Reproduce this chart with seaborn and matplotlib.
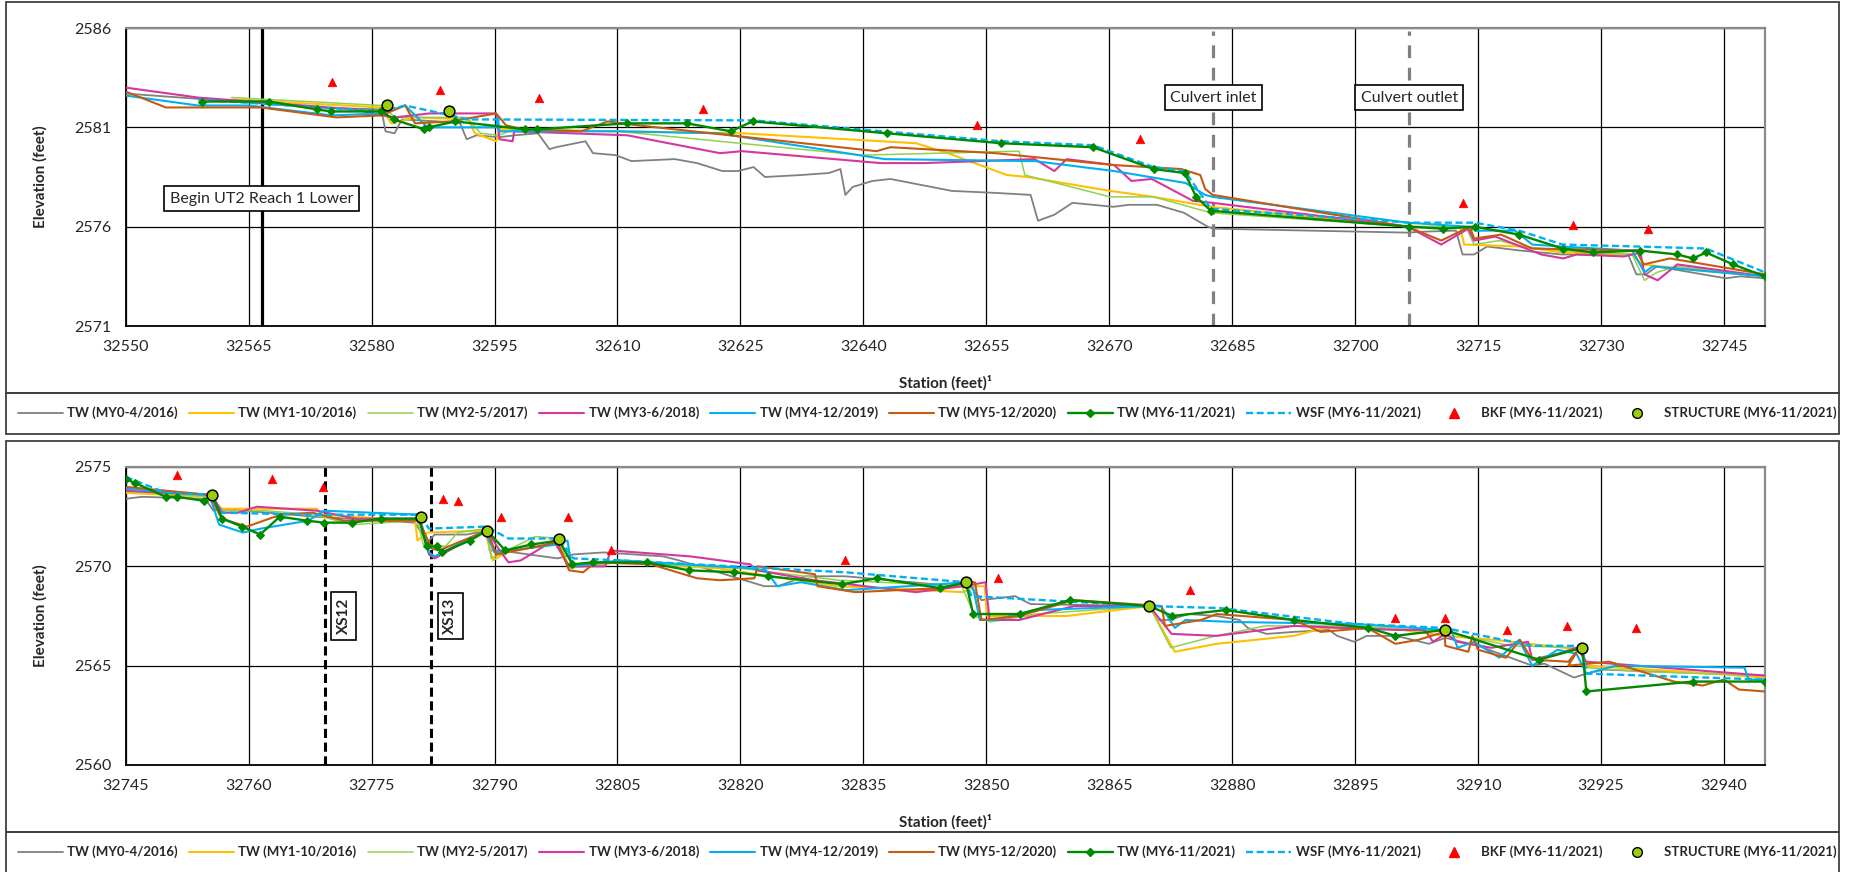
import matplotlib
matplotlib.use("Agg")
import matplotlib.pyplot as plt
from matplotlib.lines import Line2D
from matplotlib.patches import Rectangle
import seaborn as sns
import pandas as pd

# ---------------- data: upper reach (stations 32550-32750) ----------------
top_bkf_x = [32575.2, 32588.4, 32600.4, 32620.4, 32653.9, 32673.8, 32713.1, 32726.6, 32735.7]
top_bkf_y = [2583.3, 2582.9, 2582.5, 2581.9, 2581.1, 2580.4, 2577.2, 2576.1, 2575.9]
top_str_x = [32581.9, 32589.5]
top_str_y = [2582.1, 2581.8]

top_my0_x = [32550, 32560, 32573, 32581.2, 32581.7, 32582.8, 32583.7, 32588, 32590.8, 32591.6, 32592.8, 32595.5,
             32597.5, 32600.3, 32601.7, 32602.5, 32606.1, 32607.0, 32609.8, 32611.7, 32617.0, 32619.7, 32622.8,
             32624.7, 32626.6, 32628.0, 32632.4, 32635.8, 32637.2, 32637.8, 32638.7, 32641.1, 32643.3, 32650.8,
             32656.1, 32660.4, 32661.3, 32663.3, 32665.5, 32670.5, 32672.4, 32675.8, 32679.1, 32682.0, 32682.7,
             32706.4, 32708.5, 32712.3, 32713.1, 32714.5, 32716.1, 32720.1, 32725.2, 32733.3, 32734.3, 32735.5,
             32736.8, 32745.2, 32747, 32750]
top_my0_y = [2582.7, 2582.4, 2582.0, 2581.9, 2580.8, 2580.7, 2581.4, 2581.3, 2581.2, 2580.4, 2580.6, 2580.5,
             2580.6, 2580.7, 2579.9, 2580.0, 2580.3, 2579.7, 2579.6, 2579.3, 2579.4, 2579.2, 2578.8,
             2578.8, 2579.0, 2578.5, 2578.6, 2578.7, 2578.9, 2577.6, 2578.0, 2578.3, 2578.4, 2577.8,
             2577.7, 2577.6, 2576.3, 2576.6, 2577.2, 2577.0, 2577.1, 2577.1, 2576.7, 2576.0, 2575.9,
             2575.7, 2575.75, 2575.8, 2574.6, 2574.6, 2575.0, 2574.8, 2574.6, 2574.6, 2573.6, 2573.6,
             2574.0, 2573.4, 2573.5, 2573.4]

top_my1_x = [32563.1, 32581.2, 32582.4, 32585.3, 32591.8, 32592.6, 32595.2, 32595.7, 32610, 32625.2, 32646.4,
             32650.3, 32657.5, 32660, 32670.1, 32675.4, 32682.4, 32706.4, 32712.8, 32713.3, 32720.4, 32725.2,
             32733.8, 32735.0, 32741.9, 32750]
top_my1_y = [2582.4, 2582.0, 2581.2, 2581.5, 2581.4, 2580.7, 2580.3, 2580.9, 2580.8, 2580.7, 2580.2,
             2579.7, 2578.6, 2578.5, 2577.8, 2577.5, 2577.0, 2576.0, 2576.0, 2575.1, 2575.0, 2574.7,
             2574.6, 2574.1, 2573.8, 2573.5]

top_my2_x = [32562.9, 32581.2, 32582.9, 32591.6, 32593.3, 32595.5, 32597.4, 32610, 32639.7, 32659.0, 32659.7,
             32670.1, 32675.4, 32682.4, 32706.4, 32713.5, 32714.5, 32717.6, 32720.4, 32725.2, 32733.8, 32735.3,
             32736.8, 32739.3, 32750]
top_my2_y = [2582.5, 2582.1, 2581.5, 2581.5, 2580.7, 2580.6, 2580.9, 2580.8, 2579.6, 2579.8, 2578.6,
             2577.5, 2577.5, 2576.7, 2576.0, 2576.0, 2575.1, 2575.3, 2575.0, 2574.8, 2574.6, 2573.3,
             2573.7, 2574.0, 2573.5]

top_my3_x = [32550, 32558.8, 32578.1, 32581.2, 32582.9, 32587.0, 32595.2, 32595.6, 32597.2, 32597.4, 32611.2,
             32622.5, 32625.2, 32642.1, 32647.4, 32660.9, 32663.3, 32664.8, 32670.6, 32672.7, 32675.2, 32680.2,
             32682.6, 32706.4, 32710.5, 32713.8, 32714.5, 32717.1, 32722.7, 32725.4, 32727.0, 32732.8, 32734.8,
             32735.3, 32736.9, 32739.3, 32750]
top_my3_y = [2583.0, 2582.5, 2581.9, 2581.6, 2581.5, 2581.7, 2581.7, 2580.4, 2580.3, 2580.8, 2580.6,
             2579.7, 2579.8, 2579.2, 2579.2, 2579.4, 2578.8, 2579.4, 2579.1, 2578.3, 2578.4, 2577.3,
             2577.2, 2576.0, 2575.1, 2575.9, 2575.3, 2575.5, 2574.6, 2574.4, 2574.6, 2574.5, 2574.7,
             2573.6, 2573.3, 2574.1, 2573.5]

top_my4_x = [32550, 32558.8, 32565, 32575.2, 32581.2, 32584.1, 32586.8, 32595.2, 32595.4, 32595.6, 32610,
             32622.3, 32642.6, 32660.9, 32670.6, 32679.3, 32681.7, 32682.6, 32706.4, 32713.8, 32714.8, 32719.5,
             32721.6, 32725.2, 32733.8, 32735.3, 32736.3, 32750]
top_my4_y = [2582.6, 2582.1, 2582.1, 2581.6, 2581.7, 2582.1, 2581.0, 2581.0, 2581.5, 2580.8, 2580.8,
             2580.7, 2579.4, 2579.3, 2578.8, 2578.2, 2577.6, 2577.5, 2576.2, 2576.0, 2575.8, 2575.8,
             2575.1, 2575.0, 2574.8, 2573.7, 2574.0, 2573.5]

top_my5_x = [32550, 32554.9, 32566.5, 32575.7, 32581.2, 32584.1, 32585.3, 32589.7, 32595.2, 32596.4, 32598.5,
             32605.6, 32608.8, 32612.5, 32641.6, 32643.3, 32656.1, 32670.6, 32678.8, 32681.1, 32681.7, 32682.6,
             32706.4, 32710.5, 32714.0, 32714.5, 32717.8, 32721.6, 32734.3, 32735.2, 32738.4, 32750]
top_my5_y = [2582.8, 2582.0, 2582.0, 2581.5, 2581.6, 2582.1, 2581.2, 2581.3, 2581.7, 2581.1, 2580.9,
             2580.8, 2581.3, 2581.1, 2579.8, 2580.0, 2579.7, 2579.1, 2578.9, 2578.6, 2577.9, 2577.6,
             2576.0, 2575.3, 2576.0, 2575.4, 2575.6, 2574.9, 2574.8, 2574.1, 2574.4, 2573.6]

top_my6_x = [32559.3, 32567.5, 32573.3, 32575.1, 32581.2, 32582.7, 32586.4, 32587.0, 32590.2, 32598.7, 32600.2,
             32611.1, 32618.5, 32623.8, 32626.5, 32642.9, 32656.8, 32668.0, 32675.4, 32679.2, 32680.6, 32682.4,
             32706.6, 32710.7, 32714.6, 32720.0, 32725.3, 32729.0, 32734.7, 32739.3, 32741.2, 32742.8, 32746.1,
             32750.0]
top_my6_y = [2582.3, 2582.3, 2581.9, 2581.8, 2581.8, 2581.4, 2580.9, 2581.0, 2581.3, 2580.9, 2580.9,
             2581.2, 2581.2, 2580.8, 2581.3, 2580.7, 2580.2, 2580.0, 2578.9, 2578.7, 2577.5, 2576.8,
             2576.0, 2575.9, 2576.0, 2575.6, 2574.9, 2574.7, 2574.8, 2574.6, 2574.4, 2574.7, 2574.1,
             2573.5]

top_wsf_x = [32558.8, 32581.2, 32584.1, 32589.7, 32591.6, 32626.6, 32656.8, 32668.0, 32675.4, 32679.2, 32682.4,
             32706.8, 32714.6, 32720.0, 32725.3, 32734.7, 32742.8, 32750.0]
top_wsf_y = [2582.4, 2581.8, 2582.1, 2581.6, 2581.4, 2581.35, 2580.3, 2580.1, 2579.0, 2578.8, 2576.9,
             2576.2, 2576.2, 2575.8, 2575.1, 2575.0, 2574.9, 2573.7]

# ---------------- data: lower reach (stations 32745-32945) ----------------
bot_bkf_x = [32751.2, 32762.9, 32769.1, 32783.7, 32785.5, 32790.8, 32799.0, 32804.2, 32832.7, 32851.4, 32874.9,
             32899.9, 32905.9, 32913.5, 32920.9, 32929.3]
bot_bkf_y = [2574.6, 2574.4, 2574.0, 2573.4, 2573.3, 2572.5, 2572.5, 2570.8, 2570.3, 2569.4, 2568.8,
             2567.4, 2567.4, 2566.8, 2567.0, 2566.9]
bot_str_x = [32755.5, 32781.0, 32789.1, 32797.9, 32847.5, 32869.9, 32905.9, 32922.7]
bot_str_y = [2573.6, 2572.5, 2571.8, 2571.4, 2569.2, 2568.0, 2566.8, 2565.9]

bot_my0_x = [32745, 32747, 32754.7, 32755.7, 32756.7, 32768, 32780.3, 32781.8, 32782.7, 32786.6, 32789.1, 32789.4,
             32790.6, 32797.7, 32799.6, 32803.3, 32810.6, 32812.5, 32822.9, 32824.6, 32827.9, 32832.8, 32846.3,
             32847.8, 32849.4, 32853.5, 32855.4, 32869.9, 32870.9, 32872.3, 32874.7, 32878.1, 32880.9, 32881.9,
             32884.2, 32887.5, 32891.8, 32892.8, 32894.9, 32896.4, 32900, 32904.0, 32906, 32910, 32916.6, 32918.1,
             32921.7, 32923.2, 32925.3, 32945]
bot_my0_y = [2573.4, 2573.5, 2573.4, 2572.8, 2572.9, 2572.5, 2572.2, 2571.2, 2571.6, 2571.6, 2571.8, 2570.8,
             2570.8, 2570.4, 2570.6, 2570.7, 2570.5, 2570.3, 2569.0, 2569.0, 2569.5, 2569.5, 2569.0,
             2569.1, 2568.3, 2568.5, 2568.1, 2568.0, 2567.3, 2567.3, 2567.6, 2567.5, 2567.3, 2566.9,
             2566.6, 2566.7, 2566.8, 2566.5, 2566.2, 2566.5, 2566.5, 2566.1, 2566.4, 2566.0, 2565.0, 2565.1,
             2564.4, 2564.6, 2564.8, 2564.5]

bot_my1_x = [32745, 32755.2, 32756.7, 32768.3, 32769, 32780.3, 32780.6, 32781.8, 32788.8, 32789.8, 32791.4,
             32797.7, 32799.1, 32805.3, 32817.3, 32831.8, 32847.2, 32848.4, 32849.8, 32850.1, 32859.8, 32869.9,
             32873.0, 32878.1, 32887.5, 32891.3, 32899, 32905.9, 32912, 32922.7, 32923.2, 32935, 32945]
bot_my1_y = [2573.7, 2573.5, 2572.9, 2572.9, 2572.6, 2572.3, 2571.3, 2571.7, 2571.8, 2570.3, 2570.7,
             2571.2, 2570.0, 2570.2, 2569.9, 2569.0, 2568.7, 2569.0, 2569.0, 2567.5, 2567.5, 2568.0,
             2565.7, 2566.1, 2566.5, 2566.9, 2566.9, 2566.5, 2566.3, 2565.8, 2565.0, 2564.7, 2564.4]

bot_my2_x = [32745, 32755.5, 32756.8, 32762, 32768, 32772.6, 32780.6, 32781.3, 32784, 32785.5, 32789, 32789.6,
             32792, 32795, 32797.9, 32799, 32805, 32820, 32832, 32847, 32848.6, 32850.5, 32856, 32869.9, 32872.5,
             32878, 32884, 32895, 32905.9, 32914, 32922.7, 32923.2, 32930, 32945]
bot_my2_y = [2573.8, 2573.5, 2572.8, 2572.8, 2572.6, 2572.1, 2572.3, 2571.1, 2571.0, 2571.7, 2571.9, 2570.4,
             2570.9, 2571.5, 2571.4, 2569.9, 2570.2, 2569.9, 2569.3, 2569.0, 2567.5, 2567.2, 2567.6, 2568.0, 2565.9,
             2566.5, 2567.0, 2567.0, 2566.7, 2566.0, 2565.9, 2564.9, 2564.7, 2564.5]

bot_my3_x = [32745, 32755.5, 32756.8, 32758.7, 32761.0, 32768.3, 32773.1, 32780.8, 32782.0, 32782.7, 32787.1,
             32789.1, 32790.3, 32791.7, 32793.2, 32797.2, 32799.1, 32803.5, 32804.2, 32813.9, 32821.2, 32822,
             32829, 32841.4, 32847.2, 32849.9, 32850.4, 32854.0, 32860.7, 32869.9, 32872.6, 32878.1, 32887.5,
             32899.9, 32903.5, 32904.5, 32906.0, 32907.5, 32911.6, 32916.1, 32916.6, 32919.7, 32922.0, 32923.2,
             32945]
bot_my3_y = [2573.8, 2573.6, 2572.7, 2572.7, 2573.0, 2572.8, 2572.4, 2572.4, 2570.6, 2570.4, 2571.4,
             2571.8, 2571.0, 2570.2, 2570.3, 2571.3, 2570.0, 2570.0, 2570.8, 2570.5, 2570.1, 2569.8,
             2569.3, 2568.7, 2569.0, 2569.2, 2567.3, 2567.3, 2568.0, 2568.0, 2566.6, 2566.5, 2567.0,
             2566.8, 2566.8, 2566.2, 2566.6, 2566.2, 2565.9, 2566.2, 2565.3, 2565.6, 2565.9, 2565.2,
             2564.5]

bot_my4_x = [32745, 32755.2, 32756.4, 32759.3, 32761.5, 32767.3, 32769.2, 32780.8, 32782.0, 32782.7, 32788.8,
             32790.0, 32797.7, 32798.9, 32799.4, 32805.3, 32821.2, 32823.1, 32824.5, 32827.4, 32832.8, 32844.3,
             32847.5, 32848.4, 32849.2, 32851, 32855.9, 32869.9, 32871.3, 32873.0, 32874.3, 32880, 32895,
             32905.9, 32906.6, 32907.5, 32909.5, 32912.6, 32915.0, 32916.6, 32919.7, 32922.0, 32923.2, 32926.8,
             32942.5, 32943.0, 32945]
bot_my4_y = [2573.9, 2573.6, 2572.1, 2571.7, 2571.9, 2572.3, 2572.8, 2572.6, 2570.7, 2570.5, 2571.8,
             2570.7, 2571.1, 2571.3, 2570.0, 2570.3, 2569.9, 2569.8, 2569.0, 2569.2, 2568.8, 2569.1,
             2569.2, 2568.9, 2567.3, 2567.3, 2567.8, 2568.0, 2568.0, 2566.9, 2567.3, 2567.2, 2567.1,
             2566.8, 2566.9, 2565.9, 2566.2, 2565.4, 2566.3, 2565.0, 2565.8, 2565.6, 2564.6, 2565.0,
             2564.9, 2564.3, 2564.3]

bot_my5_x = [32745, 32755.2, 32756.7, 32759.8, 32763.9, 32767.8, 32771.6, 32780.8, 32782.3, 32783.2, 32789.1,
             32790.2, 32797.7, 32799.1, 32800.8, 32802.3, 32809.1, 32814.7, 32817.5, 32821.7, 32822.1, 32829.1,
             32829.4, 32834.0, 32844.3, 32847.7, 32848.6, 32849.4, 32854, 32860.7, 32871.4, 32871.8, 32876.2,
             32878.1, 32887.5, 32890.8, 32896.5, 32899.9, 32902.7, 32905.9, 32906.0, 32908.8, 32909.3, 32910,
             32913.4, 32915.1, 32916.6, 32921.0, 32922.2, 32921.0, 32926.0, 32933.9, 32937.4, 32940.0, 32941.8,
             32945]
bot_my5_y = [2574.0, 2573.6, 2572.4, 2572.0, 2572.6, 2572.7, 2572.3, 2572.3, 2570.9, 2570.8, 2571.8,
             2570.6, 2571.2, 2569.8, 2569.7, 2570.2, 2570.1, 2569.4, 2569.3, 2569.4, 2570.0, 2569.6,
             2569.0, 2568.7, 2568.9, 2569.2, 2569.2, 2567.3, 2567.5, 2568.3, 2568.0, 2567.0, 2567.3,
             2567.6, 2567.3, 2566.7, 2566.9, 2566.1, 2566.3, 2566.7, 2566.0, 2565.7, 2566.5, 2565.8,
             2565.4, 2566.3, 2565.3, 2565.2, 2565.8, 2565.0, 2565.2, 2564.2, 2564.0, 2564.3, 2563.8,
             2563.7]

bot_my6_x = [32745, 32746.1, 32749.9, 32751.3, 32754.5, 32755.5, 32756.8, 32759.2, 32761.4, 32763.8, 32767.1,
             32769.2, 32772.6, 32776.2, 32780.8, 32781.7, 32783.0, 32783.6, 32787.0, 32789.1, 32791.3, 32794.5,
             32797.9, 32799.5, 32802.0, 32808.6, 32813.7, 32819.2, 32823.4, 32832.4, 32836.7, 32844.4, 32847.5,
             32848.4, 32854.1, 32860.2, 32869.9, 32872.7, 32879.2, 32887.5, 32896.6, 32899.9, 32905.9, 32917.4,
             32922.7, 32923.2, 32936.2, 32945]
bot_my6_y = [2574.4, 2574.2, 2573.5, 2573.5, 2573.3, 2573.6, 2572.4, 2572.0, 2571.6, 2572.5, 2572.3,
             2572.2, 2572.2, 2572.4, 2572.4, 2571.0, 2571.0, 2570.7, 2571.3, 2571.8, 2570.8, 2571.1,
             2571.3, 2570.1, 2570.2, 2570.2, 2569.8, 2569.7, 2569.5, 2569.1, 2569.4, 2568.9, 2569.2,
             2567.6, 2567.6, 2568.3, 2568.0, 2567.5, 2567.8, 2567.3, 2566.9, 2566.5, 2566.8, 2565.3,
             2565.9, 2563.7, 2564.2, 2564.2]

bot_wsf_x = [32745, 32749.9, 32755.2, 32756.7, 32768.3, 32780.8, 32782.0, 32789.0, 32791.7, 32797.9, 32799.6,
             32805.3, 32832.8, 32847.5, 32848.2, 32869.9, 32878.5, 32894.9, 32905.9, 32916.6, 32922.7, 32923.2,
             32945]
bot_wsf_y = [2574.5, 2573.7, 2573.6, 2572.7, 2572.6, 2572.6, 2571.9, 2572.0, 2571.4, 2571.4, 2570.4,
             2570.3, 2569.7, 2569.2, 2568.5, 2568.0, 2567.9, 2567.1, 2566.9, 2566.0, 2566.0, 2564.6,
             2564.3]

labels = ['TW (MY0-4/2016)', 'TW (MY1-10/2016)', 'TW (MY2-5/2017)', 'TW (MY3-6/2018)',
          'TW (MY4-12/2019)', 'TW (MY5-12/2020)', 'TW (MY6-11/2021)', 'WSF (MY6-11/2021)',
          'BKF (MY6-11/2021)', 'STRUCTURE (MY6-11/2021)']
colors = ['#808080', '#FFC000', '#92D050', '#D4379F', '#00B0F0', '#C55A11', '#008A00', '#00B0F0', '#FF0000', '#9ACD0A']
widths = [1.3, 1.5, 1.1, 1.5, 1.5, 1.5]

sns.set_style('white')
plt.rcParams['font.family'] = ['Lato', 'DejaVu Sans']

W, H = 1851, 872
fig = plt.figure(figsize=(W / 100, H / 100), dpi=100)


def fx(px):
    return px / W


def fy(py):
    return 1 - py / H


# outer frames (chart box + legend box for each panel)
for top in (2, 441):
    fig.add_artist(Rectangle((fx(6), fy(top + 391)), fx(1833), 391 / H, transform=fig.transFigure,
                             fill=False, ec='#404040', lw=1.3))
    fig.add_artist(Rectangle((fx(6), fy(top + 432)), fx(1833), 41 / H, transform=fig.transFigure,
                             fill=False, ec='#404040', lw=1.3))

ax1 = fig.add_axes([fx(125.7), fy(326), (1765 - 125.7) / W, 298 / H])
ax2 = fig.add_axes([fx(125.7), fy(765), (1765 - 125.7) / W, 298 / H])


def draw(ax, series, wsf, bkf, struct):
    for (xs, ys), c, lw in zip(series[:6], colors[:6], widths):
        sns.lineplot(x=xs, y=ys, ax=ax, sort=False, estimator=None, color=c, lw=lw, zorder=3)
    xs, ys = series[6]
    sns.lineplot(x=xs, y=ys, ax=ax, sort=False, estimator=None, color=colors[6], lw=1.7,
                 marker='D', markersize=4.5, markeredgecolor=colors[6], zorder=5)
    sns.lineplot(x=wsf[0], y=wsf[1], ax=ax, sort=False, estimator=None, color=colors[7], lw=1.7,
                 linestyle=(0, (3, 1.5)), zorder=4)
    sns.scatterplot(x=bkf[0], y=bkf[1], ax=ax, marker='^', color=colors[8], edgecolor=colors[8], s=38, zorder=6)
    sns.scatterplot(x=struct[0], y=struct[1], ax=ax, marker='o', color=colors[9], edgecolor='black',
                    linewidth=1.1, s=60, zorder=7)


draw(ax1,
     [(top_my0_x, top_my0_y), (top_my1_x, top_my1_y), (top_my2_x, top_my2_y), (top_my3_x, top_my3_y),
      (top_my4_x, top_my4_y), (top_my5_x, top_my5_y), (top_my6_x, top_my6_y)],
     (top_wsf_x, top_wsf_y), (top_bkf_x, top_bkf_y), (top_str_x, top_str_y))
draw(ax2,
     [(bot_my0_x, bot_my0_y), (bot_my1_x, bot_my1_y), (bot_my2_x, bot_my2_y), (bot_my3_x, bot_my3_y),
      (bot_my4_x, bot_my4_y), (bot_my5_x, bot_my5_y), (bot_my6_x, bot_my6_y)],
     (bot_wsf_x, bot_wsf_y), (bot_bkf_x, bot_bkf_y), (bot_str_x, bot_str_y))

for ax, x0, y0 in ((ax1, 32550, 2571), (ax2, 32745, 2560)):
    ax.set_xlim(x0, x0 + 200)
    ax.set_ylim(y0, y0 + 15)
    ax.set_xticks(range(x0, x0 + 200, 15))
    ax.set_xticks(range(x0, x0 + 200, 5), minor=True)
    ax.set_yticks(range(y0, y0 + 16, 5))
    ax.grid(True, which='major', color='black', lw=0.9)
    ax.set_axisbelow(True)
    ax.tick_params(axis='both', which='major', direction='out', length=4, width=1, labelsize=11.5, pad=6,
                   color='black')
    ax.tick_params(axis='x', which='minor', direction='in', length=4, width=1, color='#333333')
    for s in ('left', 'bottom'):
        ax.spines[s].set_color('black')
        ax.spines[s].set_linewidth(1.3)
    for s in ('top', 'right'):
        ax.spines[s].set_color('#8a8a8a')
        ax.spines[s].set_linewidth(1.6)
    ax.set_xlabel('Station (feet)\u00b9', fontsize=11, fontweight='bold')
    ax.set_ylabel('Elevation (feet)', fontsize=11, fontweight='bold')
    ax.xaxis.set_label_coords(0.5, -0.165)
    ax.yaxis.set_label_coords(-0.0474, 0.5)

box = dict(boxstyle='square,pad=0.35', fc='white', ec='black', lw=1.2)

# upper annotations
ax1.axvline(32566.6, color='black', lw=2.3, zorder=2)
ax1.text(32566.6, 2577.4, 'Begin UT2 Reach 1 Lower', ha='center', va='center', fontsize=11.5, bbox=box, zorder=8)
for xv, txt in ((32682.7, 'Culvert inlet'), (32706.6, 'Culvert outlet')):
    ax1.axvline(xv, ymax=0.99, color='#808080', lw=2.3, linestyle=(0, (4, 3)), zorder=2)
    ax1.text(xv, 2582.5, txt, ha='center', va='center', fontsize=11.5, bbox=box, zorder=8)

# lower annotations
for xv, txt in ((32769.3, 'XS12'), (32782.3, 'XS13')):
    ax2.axvline(xv, color='black', lw=2.2, linestyle=(0, (3, 1.5)), zorder=2)
    ax2.text(xv + 2.3, 2567.5, txt, ha='center', va='center', rotation=90, fontsize=11,
             fontweight='bold', bbox=box, zorder=8)

handles = [Line2D([], [], color=c, lw=lw) for c, lw in zip(colors[:6], widths)]
handles.append(Line2D([], [], color=colors[6], lw=1.7, marker='D', markersize=4.5))
handles.append(Line2D([], [], color=colors[7], lw=1.7, linestyle=(0, (3, 1.5))))
handles.append(Line2D([], [], color=colors[8], lw=0, marker='^', markersize=6.5))
handles.append(Line2D([], [], color=colors[9], lw=0, marker='o', markersize=7, markeredgecolor='black'))

for yc in (413, 852):
    fig.legend(handles, labels, loc='center', bbox_to_anchor=(fx(927), fy(yc)), ncol=10, frameon=False,
               prop={'weight': 'bold', 'size': 9.5}, handlelength=3.4, handletextpad=0.35, columnspacing=0.85)

fig.savefig('out.png', dpi=100)
